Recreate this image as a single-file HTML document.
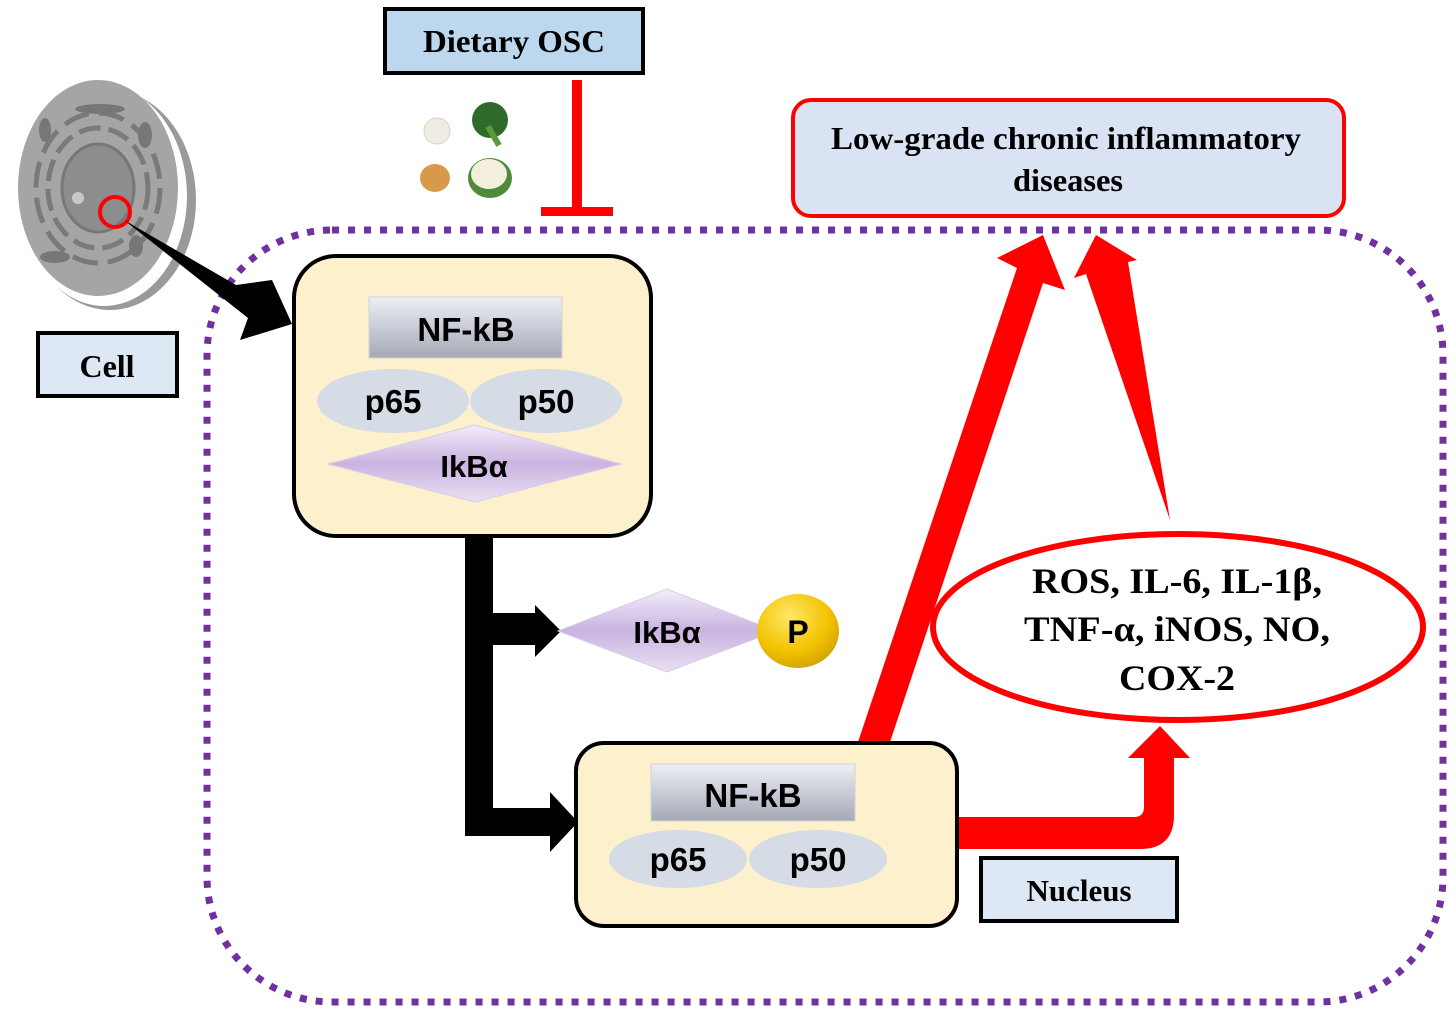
<!DOCTYPE html>
<html><head><meta charset="utf-8"><style>html,body{margin:0;padding:0;background:#fff}svg{display:block}</style></head>
<body>
<svg width="1453" height="1014" viewBox="0 0 1453 1014" xmlns="http://www.w3.org/2000/svg">
<defs>
<linearGradient id="nf" x1="0" y1="0" x2="0" y2="1"><stop offset="0" stop-color="#eef0f5"/><stop offset="0.5" stop-color="#c9ccd6"/><stop offset="1" stop-color="#a6a9b4"/></linearGradient>
<linearGradient id="dia" x1="0" y1="0" x2="0" y2="1"><stop offset="0" stop-color="#f3eefa"/><stop offset="0.5" stop-color="#c9b3e0"/><stop offset="1" stop-color="#e9e0f3"/></linearGradient>
<radialGradient id="gold" cx="0.4" cy="0.3" r="0.8"><stop offset="0" stop-color="#ffe866"/><stop offset="0.6" stop-color="#f2c200"/><stop offset="1" stop-color="#c99a00"/></radialGradient>
</defs>

<rect x="207" y="230" width="1236" height="772" rx="125" ry="125" fill="none" stroke="#7030a0" stroke-width="7" stroke-dasharray="7 9"/>

<ellipse cx="110" cy="200" rx="86" ry="110" fill="#9a9a9a"/>
<ellipse cx="104" cy="196" rx="83" ry="110" fill="#fff"/>
<ellipse cx="98" cy="188" rx="80" ry="108" fill="#a5a5a5"/>
<ellipse cx="98" cy="188" rx="50" ry="60" fill="none" stroke="#7a7a7a" stroke-width="5" stroke-dasharray="22 8"/>
<ellipse cx="98" cy="188" rx="62" ry="75" fill="none" stroke="#7a7a7a" stroke-width="5" stroke-dasharray="26 10"/>
<ellipse cx="98" cy="188" rx="36" ry="44" fill="#8d8d8d" stroke="#777" stroke-width="3"/>
<ellipse cx="100" cy="109" rx="25" ry="5" fill="#777"/>
<ellipse cx="45" cy="130" rx="6" ry="12" fill="#777"/>
<ellipse cx="145" cy="135" rx="7" ry="13" fill="#777"/>
<ellipse cx="55" cy="257" rx="15" ry="6" fill="#777"/>
<ellipse cx="136" cy="246" rx="7" ry="11" fill="#777"/>
<circle cx="78" cy="198" r="6" fill="#c8c8c8"/>
<circle cx="115" cy="212" r="15" fill="none" stroke="#ff0000" stroke-width="4"/>
<polygon points="124,220 236,285 272,280 292,324 240,340 248,318" fill="#000"/>

<rect x="38" y="333" width="139" height="63" fill="#dde8f4" stroke="#000" stroke-width="4"/>
<text x="107" y="377" text-anchor="middle" font-family="Liberation Serif, serif" font-weight="bold" font-size="32">Cell</text>

<rect x="385" y="9" width="258" height="64" fill="#bdd7ee" stroke="#000" stroke-width="4"/>
<text x="514" y="52" text-anchor="middle" font-family="Liberation Serif, serif" font-weight="bold" font-size="32" textLength="182" lengthAdjust="spacingAndGlyphs">Dietary OSC</text>

<ellipse cx="437" cy="131" rx="13" ry="13" fill="#efece4" stroke="#d8d0be"/>
<ellipse cx="435" cy="178" rx="15" ry="14" fill="#d89a4a"/>
<circle cx="490" cy="120" r="18" fill="#2f6a2a"/>
<rect x="490" y="125" width="6" height="22" fill="#5a9a3a" transform="rotate(-30 493 135)"/>
<ellipse cx="490" cy="178" rx="22" ry="20" fill="#4d8a3a"/>
<ellipse cx="489" cy="174" rx="18" ry="15" fill="#f3efdc"/>

<rect x="572" y="80" width="10" height="132" fill="#ff0000"/>
<rect x="541" y="207" width="72" height="9" fill="#ff0000"/>

<rect x="793" y="100" width="551" height="116" rx="18" fill="#dae3f3" stroke="#ff0000" stroke-width="4"/>
<text x="1066" y="149" text-anchor="middle" font-family="Liberation Serif, serif" font-weight="bold" font-size="32" textLength="470" lengthAdjust="spacingAndGlyphs">Low-grade chronic inflammatory</text>
<text x="1068" y="191" text-anchor="middle" font-family="Liberation Serif, serif" font-weight="bold" font-size="32" textLength="110" lengthAdjust="spacingAndGlyphs">diseases</text>

<rect x="294" y="256" width="357" height="280" rx="42" fill="#fdf0cc" stroke="#000" stroke-width="4"/>
<rect x="369" y="297" width="193" height="61" fill="url(#nf)" stroke="#d0d3da"/>
<text x="466" y="341" text-anchor="middle" font-family="Liberation Sans, sans-serif" font-weight="bold" font-size="33">NF-kB</text>
<ellipse cx="393" cy="401" rx="76" ry="32" fill="#d6dce5"/>
<ellipse cx="546" cy="401" rx="76" ry="32" fill="#d6dce5"/>
<text x="393" y="413" text-anchor="middle" font-family="Liberation Sans, sans-serif" font-weight="bold" font-size="33">p65</text>
<text x="546" y="413" text-anchor="middle" font-family="Liberation Sans, sans-serif" font-weight="bold" font-size="33">p50</text>
<polygon points="328,464 475,425 621,464 475,502" fill="url(#dia)" stroke="#d9cdea"/>
<text x="474" y="477" text-anchor="middle" font-family="Liberation Sans, sans-serif" font-weight="bold" font-size="31">IkBα</text>

<rect x="465" y="536" width="28" height="300" fill="#000"/>
<path d="M493,613 H536 V645 H493 Z" fill="#000"/>
<polygon points="535,605 561,631 535,657" fill="#000"/>
<rect x="465" y="808" width="87" height="28" fill="#000"/>
<polygon points="550,792 578,822 550,852" fill="#000"/>

<polygon points="558,631 667,589 776,631 667,672" fill="url(#dia)" stroke="#d9cdea"/>
<text x="667" y="643" text-anchor="middle" font-family="Liberation Sans, sans-serif" font-weight="bold" font-size="31">IkBα</text>
<ellipse cx="798" cy="631" rx="41" ry="37" fill="url(#gold)"/>
<text x="798" y="643" text-anchor="middle" font-family="Liberation Sans, sans-serif" font-weight="bold" font-size="32">P</text>

<polygon points="858,742 890,742 1043,283 1065,290 1043,235 997,258 1017,268 " fill="#ff0000"/>
<polygon points="1170,520 1128,262 1137,260 1096,235 1074,278 1086,274" fill="#ff0000"/>
<path d="M958,817 H1134 Q1144,817 1144,807 V758 H1128 L1160,726 L1190,758 H1174 V815 Q1174,849 1140,849 H958 Z" fill="#ff0000"/>

<rect x="576" y="743" width="381" height="183" rx="28" fill="#fdf0cc" stroke="#000" stroke-width="4"/>
<rect x="651" y="764" width="204" height="57" fill="url(#nf)" stroke="#d0d3da"/>
<text x="753" y="807" text-anchor="middle" font-family="Liberation Sans, sans-serif" font-weight="bold" font-size="33">NF-kB</text>
<ellipse cx="678" cy="859" rx="69" ry="29" fill="#d6dce5"/>
<ellipse cx="818" cy="859" rx="69" ry="29" fill="#d6dce5"/>
<text x="678" y="871" text-anchor="middle" font-family="Liberation Sans, sans-serif" font-weight="bold" font-size="33">p65</text>
<text x="818" y="871" text-anchor="middle" font-family="Liberation Sans, sans-serif" font-weight="bold" font-size="33">p50</text>

<rect x="981" y="858" width="196" height="63" fill="#dde8f4" stroke="#000" stroke-width="4"/>
<text x="1079" y="901" text-anchor="middle" font-family="Liberation Serif, serif" font-weight="bold" font-size="31">Nucleus</text>

<ellipse cx="1178" cy="627" rx="245" ry="93" fill="#fff" stroke="#ff0000" stroke-width="6"/>
<g font-family="Liberation Serif, serif" font-weight="bold" font-size="36" text-anchor="middle">
<text x="1177" y="593" textLength="290" lengthAdjust="spacingAndGlyphs">ROS, IL-6, IL-1β,</text>
<text x="1177" y="641" textLength="306" lengthAdjust="spacingAndGlyphs">TNF-α, iNOS, NO,</text>
<text x="1177" y="690" textLength="116" lengthAdjust="spacingAndGlyphs">COX-2</text>
</g>
</svg>
</body></html>
